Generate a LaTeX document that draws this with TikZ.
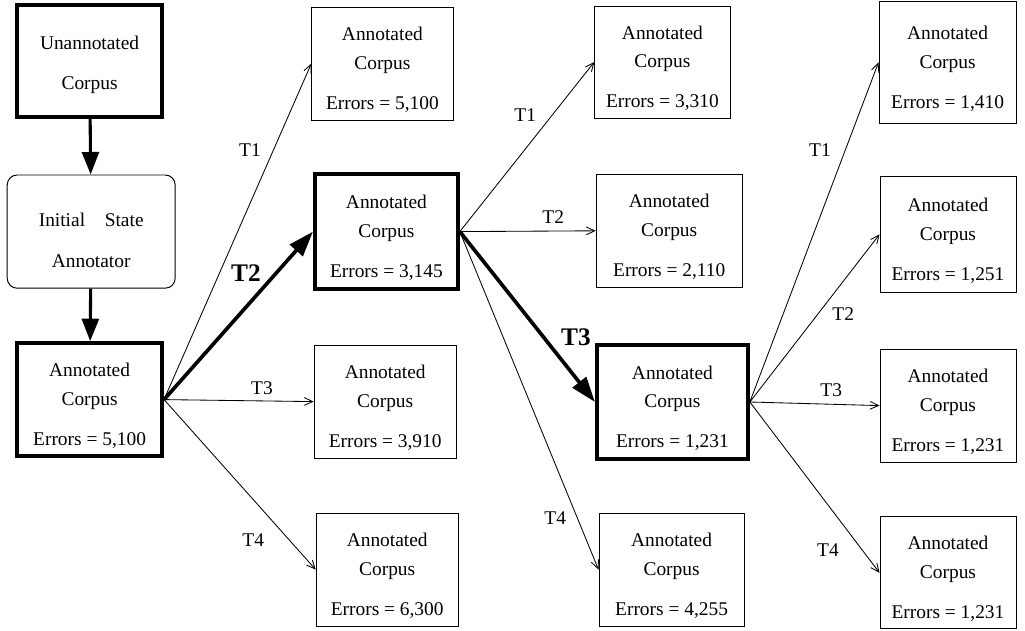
\documentclass[tikz,border=0pt]{standalone}
\usepackage{fontspec}
\setmainfont{Liberation Serif}
\usetikzlibrary{arrows.meta}
\newcommand{\corp}[1]{\rule{0pt}{18.5pt}Annotated\\Corpus\\[8pt]Errors = #1}

\begin{document}
\begin{tikzpicture}[
  font=\fontsize{13.8}{20.5}\selectfont,
  >={Straight Barb[length=6pt,width=5.5pt]},
  box/.style={draw, line width=0.7pt, align=center, inner sep=0pt, minimum height=2.83cm},
  bbox/.style={box, line width=2.6pt},
  tr/.style={->, line width=0.6pt},
  btr/.style={-{Triangle[length=18pt,width=12pt]}, line width=2.6pt},
  dwn/.style={-{Triangle[length=16pt,width=12pt]}, line width=2.2pt},
  blab/.style={font=\fontsize{18}{20}\selectfont\bfseries},
]
\useasboundingbox (0,0) rectangle (25.625,15.75);
% ---------------- column 1: corpus and initial annotation ----------------
\node[bbox, minimum width=3.63cm, minimum height=2.8cm] (unann) at (2.24,14.23)
  {\rule{0pt}{15pt}Unannotated\\[8pt]Corpus};
\node[box, rounded corners=0.25cm, minimum width=4.2cm] (isa) at (2.28,9.96)
  {\rule{0pt}{22pt}Initial\hspace{14pt}State\\[8pt]Annotator};
\node[bbox, minimum width=3.63cm] (c0) at (2.24,5.76) {\corp{5,100}};
\draw[dwn] (unann) -- (isa);
\draw[dwn] (isa) -- (c0);
% ---------------- column 2 ----------------
\node[box, minimum width=3.53cm] (b1) at (9.56,14.16) {\corp{5,100}};
\node[bbox, minimum width=3.58cm, minimum height=2.88cm] (b2) at (9.66,9.96) {\corp{3,145}};
\node[box, minimum width=3.55cm] (b3) at (9.63,5.71) {\corp{3,910}};
\node[box, minimum width=3.55cm] (b4) at (9.68,1.51) {\corp{6,300}};
\foreach \t in {b1,b3,b4} \draw[tr] (c0.east) -- (\t.west);
\draw[btr] (c0.east) -- (b2.west);  % best transformation
\node (t1a) at (6.25,12.0) {T1};
\node[blab] (t2a) at (6.15,8.93) {T2};
\node (t3a) at (6.55,6.05) {T3};
\node (t4a) at (6.33,2.25) {T4};
% ---------------- column 3 ----------------
\node[box, minimum width=3.38cm, minimum height=2.8cm] (d1) at (16.56,14.2) {\corp{3,310}};
\node[box, minimum width=3.65cm] (d2) at (16.73,9.98) {\corp{2,110}};
\node[bbox, minimum width=3.78cm, minimum height=2.85cm] (d3) at (16.81,5.7) {\corp{1,231}};
\node[box, minimum width=3.63cm] (d4) at (16.79,1.51) {\corp{4,255}};
\foreach \t in {d1,d2,d4} \draw[tr] (b2.east) -- (\t.west);
\draw[btr] (b2.east) -- (d3.west);  % best transformation
\node (t1b) at (13.13,12.88) {T1};
\node (t2b) at (13.83,10.33) {T2};
\node[blab] (t3b) at (14.4,7.33) {T3};
\node (t4b) at (13.88,2.8) {T4};
% ---------------- column 4: no gain left ----------------
\node[box, minimum width=3.43cm, minimum height=3.03cm] (e1) at (23.69,14.19) {\corp{1,410}};
\node[box, minimum width=3.4cm, minimum height=2.88cm] (e2) at (23.7,9.89) {\corp{1,251}};
\node[box, minimum width=3.4cm] (e3) at (23.7,5.61) {\corp{1,231}};
\node[box, minimum width=3.4cm, minimum height=2.8cm] (e4) at (23.7,1.43) {\corp{1,231}};
\foreach \t in {e1,e2,e3,e4} \draw[tr] (d3.east) -- (\t.west);
\node (t1c) at (20.5,12.0) {T1};
\node (t2c) at (21.08,7.9) {T2};
\node (t3c) at (20.78,6.0) {T3};
\node (t4c) at (20.7,2.0) {T4};
\end{tikzpicture}
\end{document}
